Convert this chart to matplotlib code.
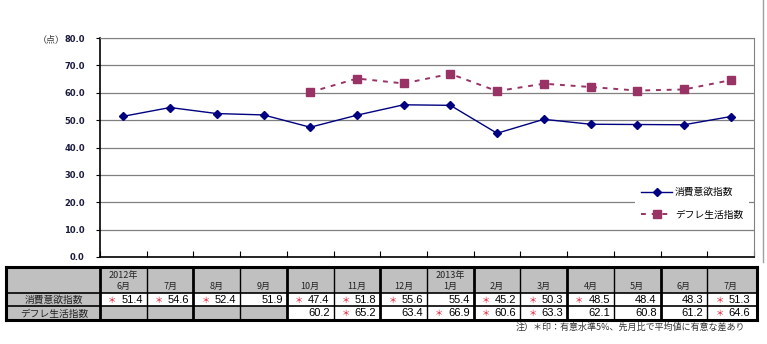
import matplotlib.pyplot as plt
from matplotlib.patches import Rectangle
import numpy as np

plt.rcParams['font.family'] = ['Noto Sans CJK JP', 'DejaVu Sans']

# monthly survey values
months = ["2012年\n6月", "7月", "8月", "9月", "10月", "11月", "12月",
          "2013年\n1月", "2月", "3月", "4月", "5月", "6月", "7月"]
consume = [51.4, 54.6, 52.4, 51.9, 47.4, 51.8, 55.6, 55.4, 45.2, 50.3, 48.5, 48.4, 48.3, 51.3]
consume_sig = [1, 1, 1, 0, 1, 1, 1, 0, 1, 1, 1, 0, 0, 1]
deflate = [None, None, None, None, 60.2, 65.2, 63.4, 66.9, 60.6, 63.3, 62.1, 60.8, 61.2, 64.6]
deflate_sig = [0, 0, 0, 0, 0, 1, 0, 1, 1, 1, 0, 0, 0, 1]
series_names = ["消費意欲指数", "デフレ生活指数"]

W, H = 767, 344
fig = plt.figure(figsize=(W / 100, H / 100), dpi=100)

# plot area in pixels
L, R, T, B = 100, 754, 38, 257
ax = fig.add_axes([L / W, 1 - B / H, (R - L) / W, (B - T) / H])

n = len(months)
x = np.arange(n)
dx = [i for i in x if deflate[i] is not None]
dy = [deflate[i] for i in dx]

ax.plot(x, consume, color='#000080', lw=1, marker='D', ms=4, label=series_names[0], zorder=3)
ax.plot(dx, dy, color='#993366', lw=1.4, ls=(0, (2.5, 3)), marker='s', ms=6,
        label=series_names[1], zorder=3)

ax.set_xlim(-0.5, n - 0.5)
ax.set_ylim(0, 80)
ax.set_yticks(np.arange(0, 81, 10))
ax.set_yticklabels(["{:.1f}".format(v) for v in np.arange(0, 81, 10)])
ax.set_xticks(np.arange(-0.5, n, 1))
ax.set_xticklabels([])
ax.tick_params(axis='x', direction='in', length=4, width=0.8)
ax.tick_params(axis='y', direction='out', length=3, width=0.8, labelsize=6,
               labelcolor='#1a1a40', pad=8)
for lab in ax.get_yticklabels():
    lab.set_fontweight('bold')
    lab.set_family(['DejaVu Sans'])
ax.yaxis.grid(True, color='#808080', lw=0.9)
ax.set_axisbelow(True)
ax.spines['top'].set_color('#808080')
ax.spines['right'].set_color('#808080')
ax.spines['left'].set_linewidth(1.2)
ax.spines['bottom'].set_linewidth(1.2)

leg = ax.legend(loc='center right', bbox_to_anchor=(1.0, 0.245), frameon=True,
                fontsize=7, handlelength=3.2, labelspacing=1.3, borderpad=0.6,
                handletextpad=0.3)
leg.get_frame().set_edgecolor('none')
leg.get_frame().set_facecolor('white')
leg.get_frame().set_alpha(1)

fig.text(38 / W, 1 - 40 / H, "（点）", fontsize=6.5, color='#333333', va='center')

# table drawn in pixel coordinates
tab = fig.add_axes([0, 0, 1, 1])
tab.set_xlim(0, W)
tab.set_ylim(H, 0)
tab.axis('off')

cw = (R - L) / n
y0, y1, y2, y3 = 267, 293, 306, 320
gray = '#c0c0c0'

tab.add_patch(Rectangle((6, y0), R + 3 - 6, y1 - y0, fc=gray, ec='none'))
tab.add_patch(Rectangle((6, y1), L - 6, y3 - y1, fc=gray, ec='none'))
for i in range(n):
    if deflate[i] is None:
        tab.add_patch(Rectangle((L + i * cw, y2), cw, y3 - y2, fc=gray, ec='none'))

# grid lines of the table
for yy in (y0, y3):
    tab.plot([6, R + 3], [yy, yy], color='black', lw=2.2)
for yy in (y1, y2):
    tab.plot([6, R + 3], [yy, yy], color='black', lw=1.2)
tab.plot([6, 6], [y0, y3], color='black', lw=2.2)
tab.plot([R + 3, R + 3], [y0, y3], color='black', lw=2.2)
for i in range(n):
    xx = L + i * cw
    tab.plot([xx, xx], [y0, y3], color='black', lw=2.0 if i % 2 == 0 else 1.0)

for i, m in enumerate(months):
    cx = L + (i + 0.5) * cw
    tab.text(cx, y1 - 2, m, ha='center', va='bottom', fontsize=6.5, color='#222222',
             linespacing=1.3)

rows = [(consume, consume_sig, y1, y2), (deflate, deflate_sig, y2, y3)]
for (vals, sig, ya, yb), name in zip(rows, series_names):
    ym = (ya + yb) / 2 + 0.5
    tab.text(L / 2 + 4, ym, name, ha='center', va='center', fontsize=7, color='#222222')
    for i, v in enumerate(vals):
        if v is None:
            continue
        xa = L + i * cw
        tab.text(xa + cw - 4, ym, "{:.1f}".format(v), ha='right', va='center',
                 fontsize=8, family=['Liberation Sans'])
        if sig[i]:
            tab.text(xa + 8, ym, "＊", ha='left', va='center', fontsize=6, color='#e8102a')

tab.text(745, 327, "注）＊印：有意水準5%、先月比で平均値に有意な差あり", ha='right', va='center',
         fontsize=6.5, color='#333333')

# outer frame line at the right
tab.plot([763, 763], [0, 262], color='#a0a0a0', lw=1)

fig.savefig("out.png", dpi=100)
